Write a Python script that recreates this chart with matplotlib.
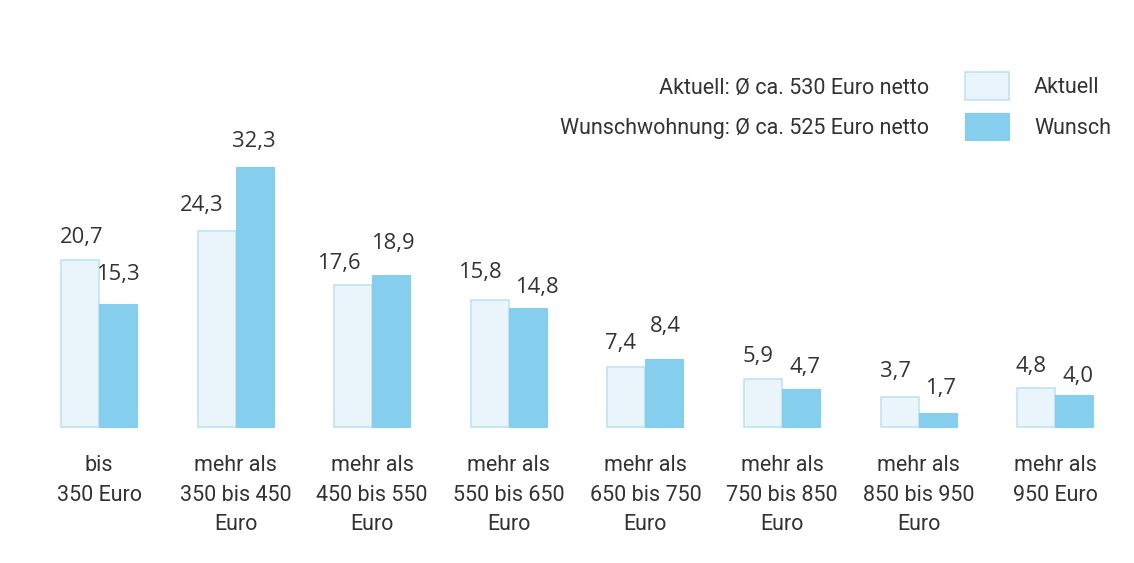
import matplotlib.pyplot as plt
import numpy as np

categories = ["bis\n350 Euro", "mehr als\n350 bis 450\nEuro", "mehr als\n450 bis 550\nEuro",
              "mehr als\n550 bis 650\nEuro", "mehr als\n650 bis 750\nEuro", "mehr als\n750 bis 850\nEuro",
              "mehr als\n850 bis 950\nEuro", "mehr als\n950 Euro"]
aktuell = [20.7, 24.3, 17.6, 15.8, 7.4, 5.9, 3.7, 4.8]
wunsch = [15.3, 32.3, 18.9, 14.8, 8.4, 4.7, 1.7, 4.0]
notes = ["Aktuell: Ø ca. 530 Euro netto", "Wunschwohnung: Ø ca. 525 Euro netto"]

# hand-placed value label nudges (pixels), as in the original layout
akt_dx = [2, -15, -14, -10, -6, -5, -4, -5]
akt_dy = [23, 26, 22, 27, 24, 23, 26, 22]
wun_dx = [0, -1, 2, 9, 1, 4, 3, 4]
wun_dy = [29, 25, 31, 20, 33, 22, 25, 18]

label_font = ["Roboto", "DejaVu Sans"]
num_font = ["Open Sans", "DejaVu Sans"]
text_color = "#333333"

fig = plt.figure(figsize=(11.34, 5.63), dpi=100)
ax = fig.add_axes([0, 0, 1, 1])

x = np.arange(len(categories))
w = 0.278
b1 = ax.bar(x - w / 2, aktuell, w, color="#e9f4fb", edgecolor="#bfe4f6", linewidth=1.2, label="Aktuell")
b2 = ax.bar(x + w / 2, wunsch, w, color="#86ceee", edgecolor="#86ceee", linewidth=0.8, label="Wunsch")


def fmt(v):
    return f"{v:.1f}".replace(".", ",")


for xi, v, dx, dy in zip(x - w / 2, aktuell, akt_dx, akt_dy):
    ax.annotate(fmt(v), (xi, v), xytext=(dx, dy), textcoords="offset pixels",
                ha="center", va="center", fontsize=15.8, family=num_font, color=text_color)
for xi, v, dx, dy in zip(x + w / 2, wunsch, wun_dx, wun_dy):
    ax.annotate(fmt(v), (xi, v), xytext=(dx, dy), textcoords="offset pixels",
                ha="center", va="center", fontsize=15.8, family=num_font, color=text_color)

for xi, c in zip(x, categories):
    ax.text(xi, -3.45, c, ha="center", va="top", fontsize=15.5, family=label_font,
            color=text_color, linespacing=1.55)

ax.set_xlim(-0.725, 7.577)
ax.set_ylim(-16.9, 53.04)
ax.axis("off")

leg = ax.legend(handles=[b1, b2], loc="upper left", bbox_to_anchor=(0.851, 0.872),
                frameon=False, prop={"family": label_font, "size": 15.5},
                handlelength=2.06, handleheight=1.6, labelspacing=0.6,
                handletextpad=1.15, borderpad=0, borderaxespad=0)
for t in leg.get_texts():
    t.set_color(text_color)

fig.text(0.819, 0.843, notes[0], ha="right", va="center", fontsize=15.5,
         family=label_font, color=text_color)
fig.text(0.819, 0.772, notes[1], ha="right", va="center", fontsize=15.5,
         family=label_font, color=text_color)

fig.savefig("out.png", dpi=100)
